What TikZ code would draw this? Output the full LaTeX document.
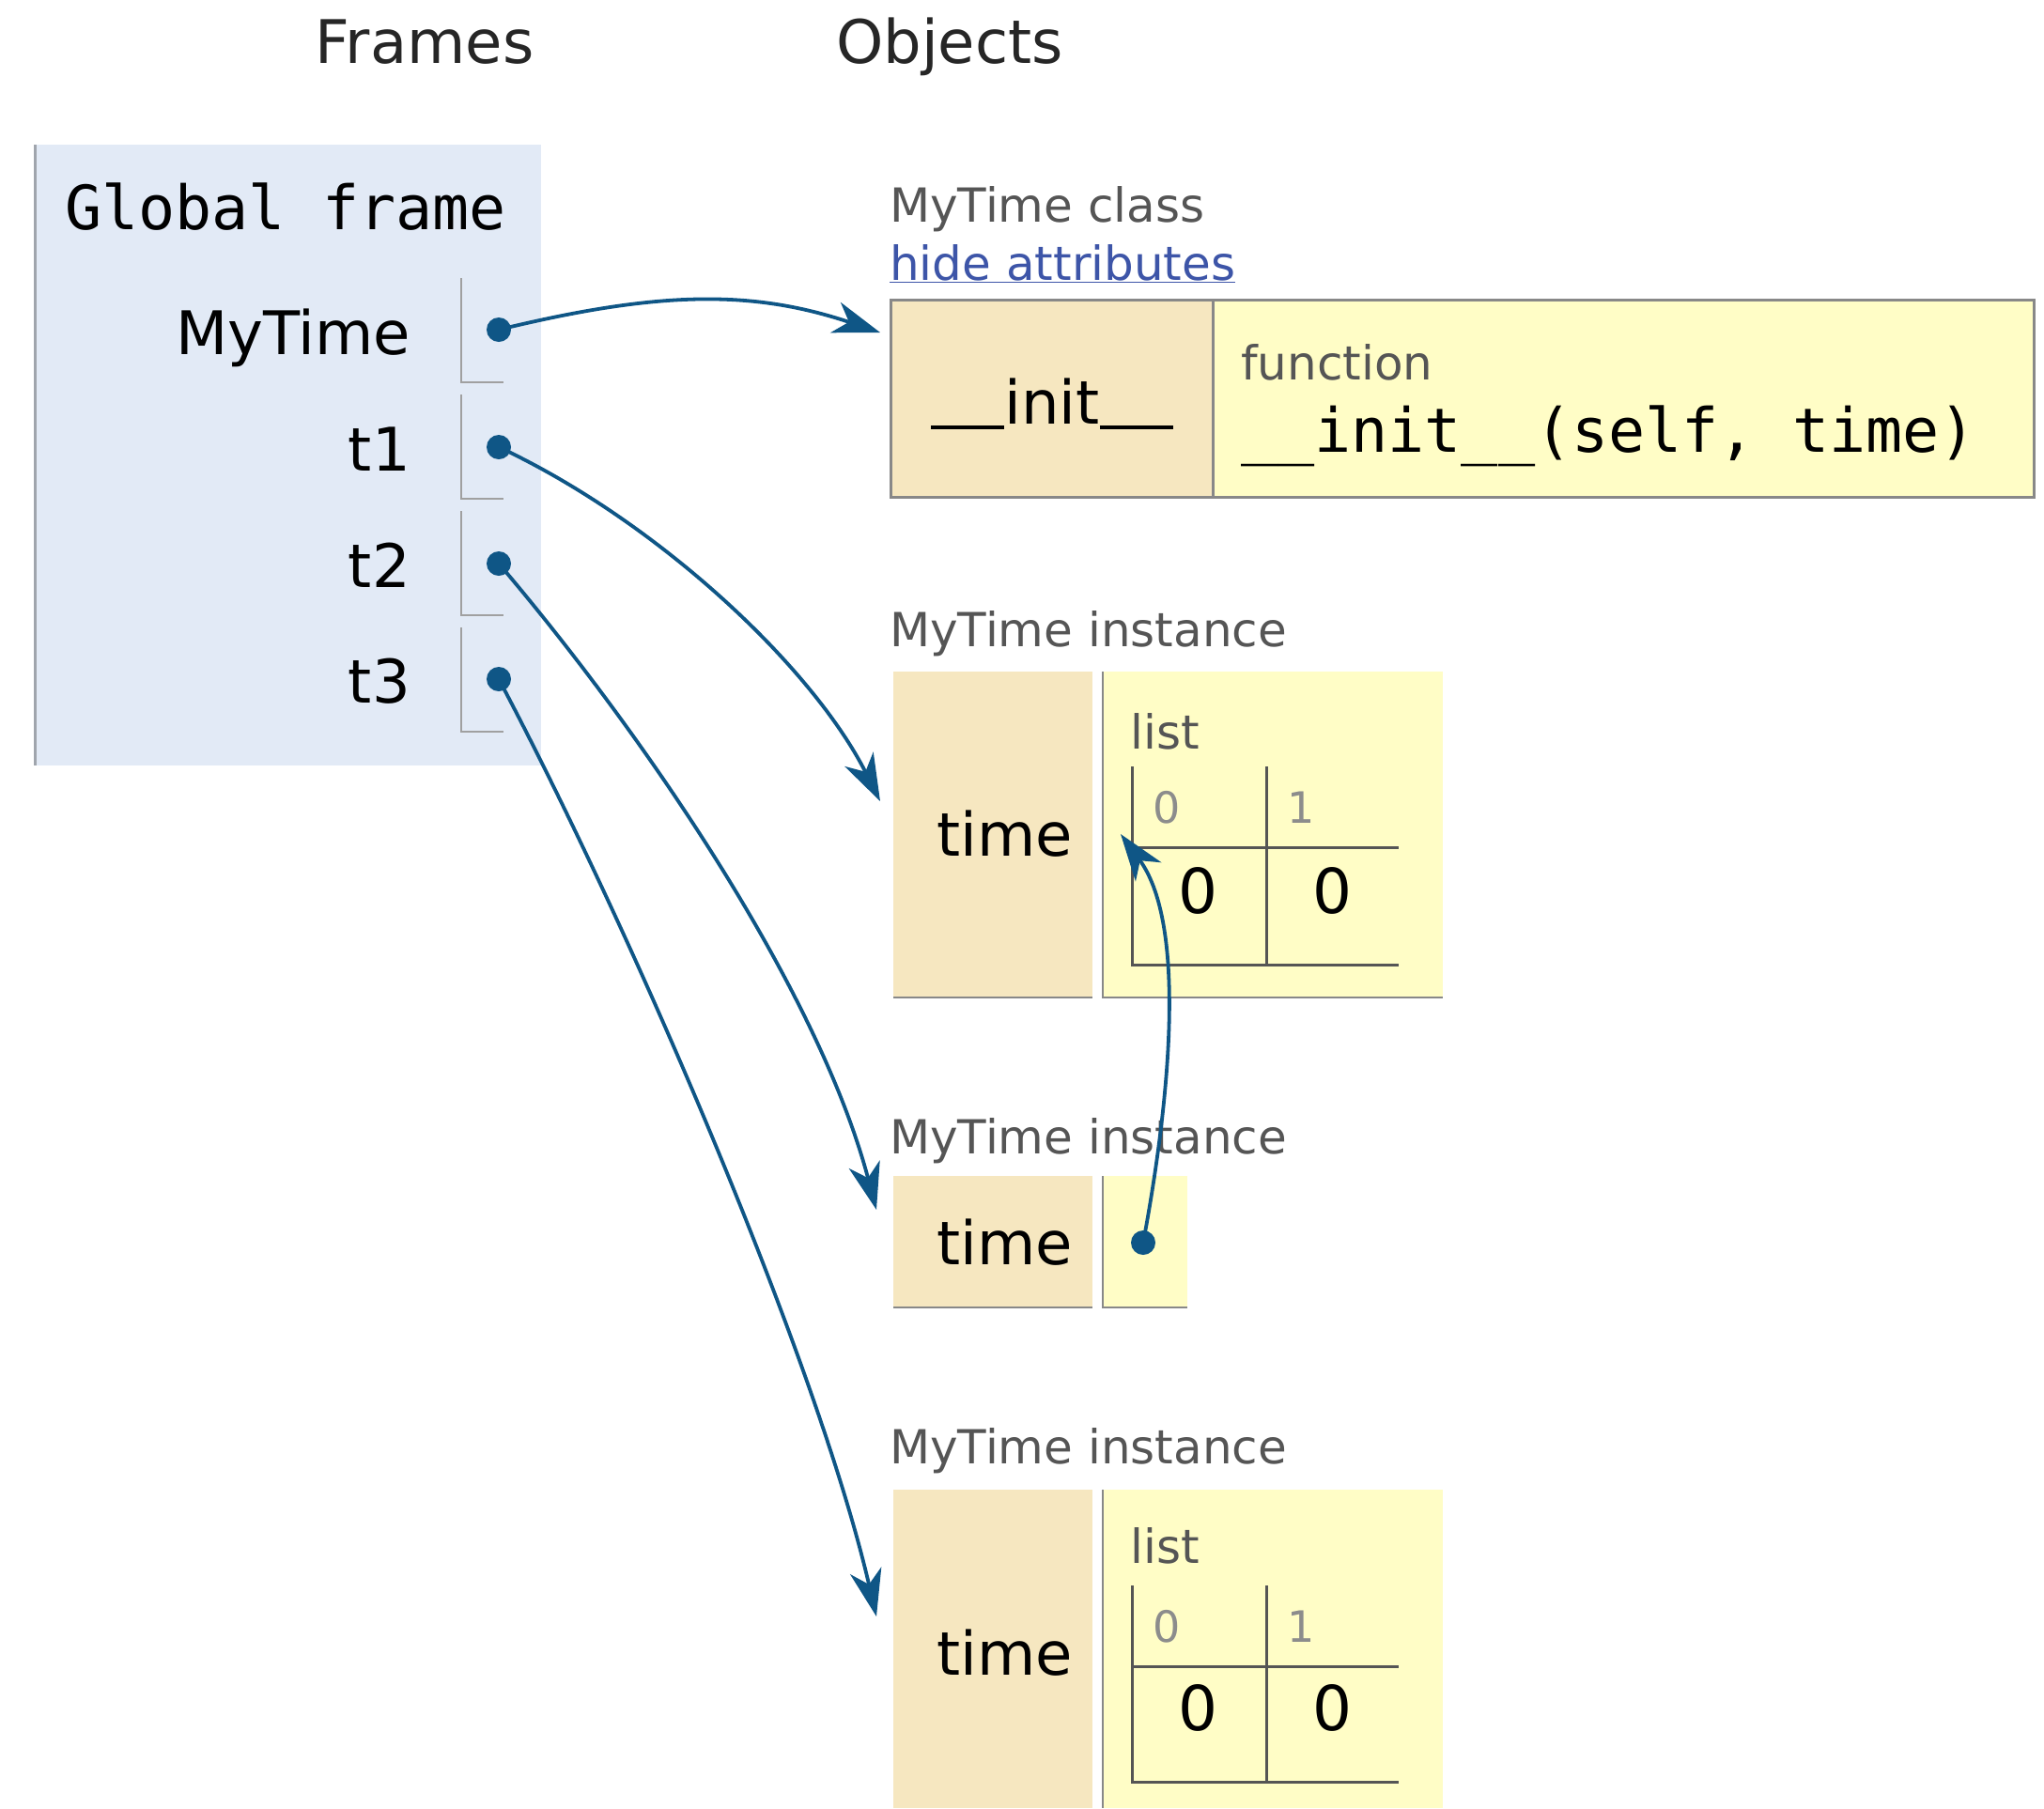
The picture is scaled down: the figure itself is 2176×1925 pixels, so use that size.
\documentclass[tikz,border=0pt]{standalone}
\usepackage{fontspec}
\setmainfont{DejaVu Sans}
\setmonofont{DejaVu Sans Mono}
\usetikzlibrary{arrows.meta}
\definecolor{framebg}{HTML}{E2EAF6}
\definecolor{frameedge}{HTML}{A0A5AD}
\definecolor{keybg}{HTML}{F6E7C0}
\definecolor{valbg}{HTML}{FFFDC6}
\definecolor{ptrc}{HTML}{0F5686}
\definecolor{boxline}{HTML}{888888}
\definecolor{slotline}{HTML}{A0A0A0}
\definecolor{tabline}{HTML}{555555}
\definecolor{labelc}{HTML}{555555}
\definecolor{linkc}{HTML}{3D55A8}
\newcommand\fsz[1]{\fontsize{#1}{#1}\selectfont}
\newcommand\uu{\rule[-0.1em]{1.22em}{0.065em}}
\begin{document}
\begin{tikzpicture}[x=1pt,y=-1pt,
  title/.style={font=\fsz{64}, text=black!85, inner sep=0pt, anchor=base},
  varname/.style={font=\fsz{64}, inner sep=0pt, anchor=base east},
  mono/.style={font=\ttfamily\fsz{65}, inner sep=0pt, anchor=base west},
  lbl/.style={font=\fsz{50}, text=labelc, inner sep=0pt, anchor=base west},
  keytxt/.style={font=\fsz{64}, inner sep=0pt, anchor=base east},
  idx/.style={font=\fsz{46}, text=black!45, inner sep=0pt},
  val/.style={font=\fsz{66}, inner sep=0pt},
  ptrdot/.style={circle, fill=ptrc, inner sep=0pt, minimum size=26pt},
  ptr/.style={draw=ptrc, line width=3.8pt, -{Stealth[length=50pt,width=34pt,inset=15pt]}},
  slot/.style={draw=slotline, line width=2.5pt},
  cellline/.style={draw=boxline, line width=2.5pt},
  tab/.style={draw=tabline, line width=3pt},
]
\useasboundingbox[fill=white] (0,0) rectangle (2176,1925);

% titles
\node[title] (tFrames) at (452,67) {Frames};
\node[title] (tObjects) at (1011,67) {Objects};

% global frame
\fill[framebg] (36,154) rectangle (576,815);
\draw[draw=frameedge, line width=3pt] (37.5,154) -- (37.5,815);
\node[mono] (gf) at (69,244) {Global frame};

\node[varname] (vMy) at (437,377) {MyTime};
\node[varname] (v1) at (437,501) {t1};
\node[varname] (v2) at (437,625) {t2};
\node[varname] (v3) at (437,748) {t3};

\foreach \yt in {296,420,544,668}{
  \draw[slot] (491,\yt) -- (491,\yt+111) -- (536,\yt+111);
}
\node[ptrdot] (dMy) at (531,351) {};
\node[ptrdot] (d1) at (531,476) {};
\node[ptrdot] (d2) at (531,600) {};
\node[ptrdot] (d3) at (531,723) {};

% class object
\node[lbl] (lClass) at (947,236) {MyTime class};
\node[lbl, text=linkc] (lHide) at (947,298) {\underline{hide attributes}};
\fill[keybg] (948,319) rectangle (1291,529);
\fill[valbg] (1291,319) rectangle (2165,529);
\draw[cellline, line width=3pt] (948,319) rectangle (2165,529);
\draw[cellline, line width=3pt] (1291,319) -- (1291,529);
\node[keytxt, anchor=base] (kInit) at (1120,451) {\uu init\uu};
\node[lbl] (lFunc) at (1321,404) {function};
\node[mono] (fSig) at (1321,481) {\_\_init\_\_(self, time)};

% instance 1
\node[lbl] (lInst1) at (947,688) {MyTime instance};
\fill[keybg] (951,715) rectangle (1163,1062);
\fill[valbg] (1173,715) rectangle (1536,1062);
\draw[cellline] (951,1062) -- (1163,1062);
\draw[cellline] (1174,715) -- (1174,1062) -- (1536,1062);
\node[keytxt] (kTime1) at (1142,911) {time};
\node[lbl] (lList1) at (1203,797) {list};
\draw[tab] (1205,816) -- (1205,1027) -- (1489,1027);
\draw[tab] (1348,816) -- (1348,1027);
\draw[tab] (1205,902) -- (1489,902);
\node[idx] (i10) at (1242,860) {0};
\node[idx] (i11) at (1385,860) {1};
\node[val] (v10) at (1275,948) {0};
\node[val] (v11) at (1418,948) {0};

% instance 2
\node[lbl] (lInst2) at (947,1228) {MyTime instance};
\fill[keybg] (951,1252) rectangle (1163,1392);
\fill[valbg] (1173,1252) rectangle (1264,1392);
\draw[cellline] (951,1392) -- (1163,1392);
\draw[cellline] (1174,1252) -- (1174,1392) -- (1264,1392);
\node[keytxt] (kTime2) at (1142,1346) {time};
\node[ptrdot] (d4) at (1217,1323) {};

% instance 3
\node[lbl] (lInst3) at (947,1558) {MyTime instance};
\fill[keybg] (951,1586) rectangle (1163,1925);
\fill[valbg] (1173,1586) rectangle (1536,1925);
\draw[cellline] (1174,1586) -- (1174,1925);
\node[keytxt] (kTime3) at (1142,1783) {time};
\node[lbl] (lList3) at (1203,1664) {list};
\draw[tab] (1205,1688) -- (1205,1897) -- (1489,1897);
\draw[tab] (1348,1688) -- (1348,1897);
\draw[tab] (1205,1774) -- (1489,1774);
\node[idx] (i30) at (1242,1732) {0};
\node[idx] (i31) at (1385,1732) {1};
\node[val] (v30) at (1275,1818) {0};
\node[val] (v31) at (1418,1818) {0};

% pointer targets
\coordinate (tipClass) at (937,354);
\coordinate (tipI1) at (937,853);
\coordinate (tipI2) at (933,1288);
\coordinate (tipI3) at (933,1721);
\coordinate (tipList) at (1193,888);

\draw[ptr] (dMy.center) .. controls (700,310) and (800,308) .. (tipClass);
\draw[ptr] (d1.center) .. controls (700,555) and (865,710) .. (tipI1);
\draw[ptr] (d2.center) .. controls (680,775) and (870,1050) .. (tipI2);
\draw[ptr] (d3.center) .. controls (675,995) and (870,1450) .. (tipI3);
\draw[ptr] (d4.center) .. controls (1240,1200) and (1268,990) .. (tipList);
\end{tikzpicture}
\end{document}
